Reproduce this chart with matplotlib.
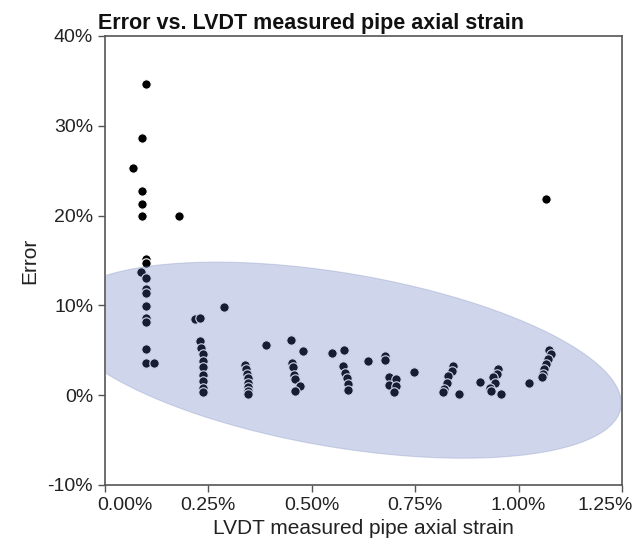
import numpy as np
import matplotlib
matplotlib.use('Agg')
import matplotlib.pyplot as plt
import matplotlib.transforms as mtransforms
from matplotlib.ticker import PercentFormatter

matplotlib.rcParams['font.family'] = ['Liberation Sans', 'DejaVu Sans']
matplotlib.rcParams['font.size'] = 14
matplotlib.rcParams['axes.unicode_minus'] = False

# LVDT strain (%) and error (%) per reading, grouped by load step
strain = [0.099, 0.089, 0.068, 0.089, 0.089, 0.089, 0.179,
          0.098, 0.098, 0.088, 0.098, 0.098, 0.098, 0.098, 0.098, 0.098, 0.098, 0.098, 0.119,
          0.218, 0.230, 0.230, 0.232, 0.238, 0.238, 0.238, 0.238, 0.238, 0.238, 0.238,
          0.288,
          0.339, 0.341, 0.343, 0.345, 0.346, 0.346, 0.346, 0.346,
          0.389, 0.449, 0.478,
          0.452, 0.455, 0.457, 0.459, 0.471, 0.459,
          0.548, 0.579,
          0.576, 0.580, 0.585, 0.588, 0.588,
          0.637, 0.678, 0.678,
          0.686, 0.704, 0.687, 0.704, 0.700,
          0.747,
          0.842, 0.839, 0.830, 0.826, 0.820, 0.818,
          0.857, 0.906,
          0.950, 0.948, 0.938, 0.942, 0.930, 0.934,
          0.957, 1.026,
          1.074, 1.078, 1.070, 1.066, 1.061, 1.058, 1.056,
          1.066]
error = [34.6, 28.6, 25.3, 22.7, 21.3, 20.0, 20.0,
         15.2, 14.7, 13.7, 13.0, 11.8, 11.4, 9.9, 8.65, 8.1, 5.1, 3.6, 3.6,
         8.5, 8.6, 6.05, 5.3, 4.6, 3.8, 3.1, 2.3, 1.6, 0.85, 0.3,
         9.84,
         3.4, 2.9, 2.4, 1.9, 1.4, 0.9, 0.5, 0.1,
         5.57, 6.2, 4.9,
         3.6, 3.1, 2.3, 1.8, 1.0, 0.5,
         4.68, 5.05,
         3.2, 2.5, 1.9, 1.2, 0.6,
         3.8, 4.4, 3.9,
         1.97, 1.85, 1.1, 1.04, 0.3,
         2.6,
         3.3, 2.7, 2.15, 1.4, 0.67, 0.3,
         0.1, 1.48,
         2.9, 2.34, 1.97, 1.4, 0.85, 0.48,
         0.1, 1.4,
         5.05, 4.57, 4.0, 3.45, 2.9, 2.34, 2.08,
         21.9]

fig = plt.figure(figsize=(6.34, 5.52), dpi=100)
ax = fig.add_axes([0.1656, 0.1214, 0.8154, 0.8134])

ax.scatter(strain, error, s=46, color='black', edgecolors='white', linewidths=0.8, zorder=2)

ax.set_xlim(0, 1.25)
ax.set_ylim(-10, 40)
ax.set_xticks([0, 0.25, 0.5, 0.75, 1.0, 1.25])
ax.set_yticks([-10, 0, 10, 20, 30, 40])
ax.xaxis.set_major_formatter(PercentFormatter(decimals=2))
ax.yaxis.set_major_formatter(PercentFormatter(decimals=0))

# shaded band around the bulk of the readings (built in screen pixels, then mapped to data)
fig.canvas.draw()
bb = ax.get_window_extent()
px_x = bb.width / 1.25
px_y = bb.height / 50.0
cx, cy = 0.568, 3.9
a_px, b_px, th = 285.0, 87.0, np.radians(-9.6)
t = np.linspace(0, 2 * np.pi, 300)
dx = a_px * np.cos(th) * np.cos(t) - b_px * np.sin(th) * np.sin(t)
dy = a_px * np.sin(th) * np.cos(t) + b_px * np.cos(th) * np.sin(t)
ax.fill(cx + dx / px_x, cy + dy / px_y, facecolor=(0.33, 0.42, 0.72), alpha=0.28,
        edgecolor=(0.45, 0.52, 0.72), linewidth=0.8, zorder=3)

for s in ax.spines.values():
    s.set_color('#555555')
    s.set_linewidth(1.2)
ax.tick_params(direction='out', length=5, width=1, color='#555555', labelcolor='#222222', labelsize=14)

xl = ax.get_xticklabels()
xl[0].set_ha('left')
xl[0].set_transform(xl[0].get_transform() + mtransforms.ScaledTranslation(-0.08, 0, fig.dpi_scale_trans))
xl[-1].set_ha('right')
xl[-1].set_transform(xl[-1].get_transform() + mtransforms.ScaledTranslation(0.11, 0, fig.dpi_scale_trans))

ax.set_xlabel('LVDT measured pipe axial strain', fontsize=15, color='#222222', labelpad=4)
ax.set_ylabel('Error', fontsize=15, color='#222222', labelpad=6)
fig.text(0.155, 0.947, 'Error vs. LVDT measured pipe axial strain', fontsize=15.5,
         fontweight='bold', ha='left', va='baseline', color='#111111')

fig.savefig('out.png', dpi=100)
